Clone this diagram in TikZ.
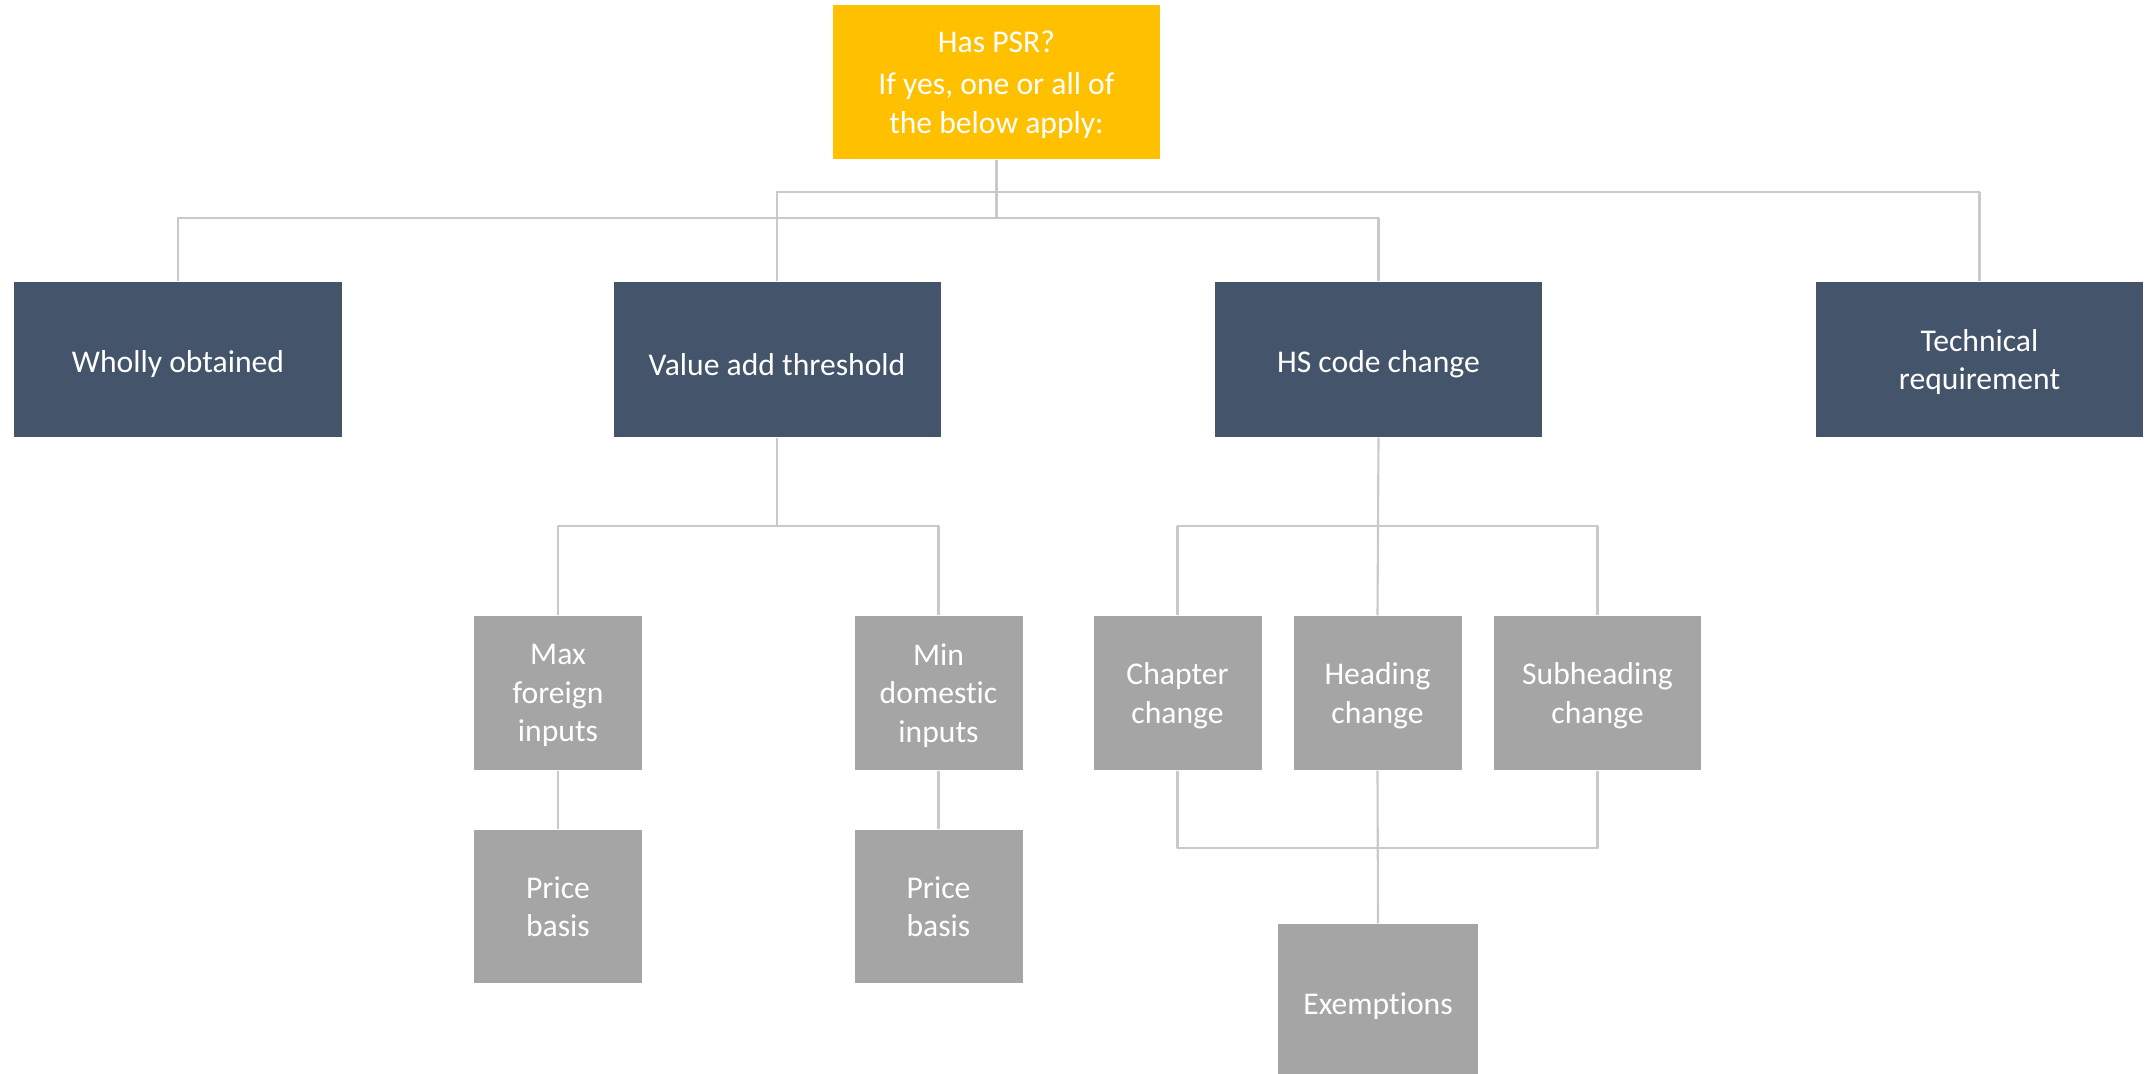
\documentclass[tikz,border=0pt]{standalone}
\usepackage{fontspec}
\setmainfont{Carlito}[Ligatures=NoCommon]
\definecolor{psryellow}{HTML}{FFC000}
\definecolor{mainblue}{HTML}{44546A}
\definecolor{subgray}{HTML}{A5A5A5}
\definecolor{linkgray}{HTML}{C9C9C9}
\begin{document}
\begin{tikzpicture}[line join=round,font=\fontsize{9}{11}\selectfont,
    psrbox/.style={fill=psryellow,text=white,align=center,minimum width=3.27cm,minimum height=1.54cm,inner sep=0pt},
    mainbox/.style={fill=mainblue,text=white,align=center,minimum width=3.27cm,minimum height=1.55cm,inner sep=0pt},
    subbox/.style={fill=subgray,text=white,align=center,minimum width=1.68cm,minimum height=1.54cm,inner sep=0pt},
    oneline/.style={text height=9pt},
    multiline/.style={text depth=-1.4pt},
    link/.style={draw=linkgray,line width=0.6pt}]
    \useasboundingbox (0,0) rectangle (21.47,10.74);
    \node[psrbox,text depth=-1.8pt] (psr) at (9.965,9.92) {Has PSR?\\[1pt]If yes, one or all of\\the below apply:};
    \node[mainbox,oneline] (wholly) at (1.78,7.145) {Wholly obtained};
    \node[mainbox,oneline] (value) at (7.77,7.145) {Value add threshold};
    \node[mainbox,oneline] (hs) at (13.785,7.145) {HS code change};
    \node[mainbox,multiline] (tech) at (19.795,7.145) {Technical\\requirement};
    \node[subbox,multiline] (maxf) at (5.58,3.81) {Max\\foreign\\inputs};
    \node[subbox,multiline] (mind) at (9.385,3.81) {Min\\domestic\\inputs};
    \node[subbox,multiline] (chap) at (11.775,3.81) {Chapter\\change};
    \node[subbox,multiline] (head) at (13.775,3.81) {Heading\\change};
    \node[subbox,multiline,minimum width=2.07cm] (subh) at (15.975,3.81) {Subheading\\change};
    \node[subbox,text depth=-3pt,minimum height=1.53cm] (pricef) at (5.58,1.675) {Price\\basis};
    \node[subbox,text depth=-3pt,minimum height=1.53cm] (priced) at (9.385,1.675) {Price\\basis};
    \node[subbox,oneline,minimum width=2cm] (exempt) at (13.78,0.73) {Exemptions};
    \coordinate (jtopa) at (9.965,8.82);
    \coordinate (jtopb) at (9.965,8.56);
    \coordinate (jvalue) at (7.77,5.48);
    \coordinate (jhs) at (13.785,5.48);
    \coordinate (jexempt) at (13.78,2.26);
    \draw[link] (psr.south) -- (jtopb);
    \draw[link] (value.north) -- (value.north |- jtopa) -| (tech.north);
    \draw[link] (wholly.north) -- (wholly.north |- jtopb) -| (hs.north);
    \draw[link] (value.south) -- (jvalue);
    \draw[link] (maxf.north) -- (maxf.north |- jvalue) -| (mind.north);
    \draw[link] (hs.south) -- (head.north);
    \draw[link] (chap.north) -- (chap.north |- jhs) -| (subh.north);
    \foreach \a/\b in {maxf/pricef,mind/priced,head/exempt}
        \draw[link] (\a.south) -- (\b.north);
    \draw[link] (chap.south) -- (chap.south |- jexempt) -| (subh.south);
\end{tikzpicture}
\end{document}
